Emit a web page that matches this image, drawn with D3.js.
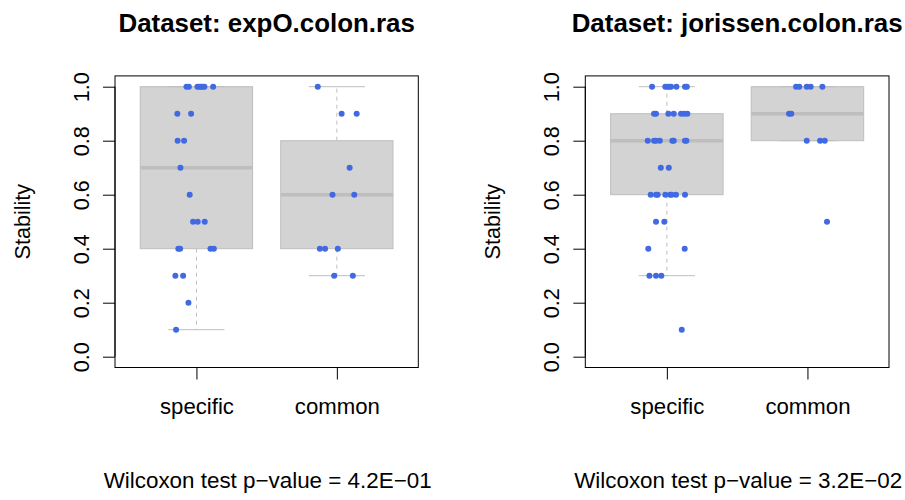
<!DOCTYPE html>
<html><head><meta charset="utf-8">
<script src="https://cdn.jsdelivr.net/npm/d3@7"></script>
<style>
body{margin:0;background:#fff}
svg{display:block}
text{font-family:"Liberation Sans",Arial,Helvetica,sans-serif;fill:#000}
</style>
</head><body>
<svg id="chart" width="905" height="500"></svg>
<script>
// ---------------- data ----------------
const categories = ["specific", "common"];
const yTickValues = [0, 0.2, 0.4, 0.6, 0.8, 1.0];
const panelTitles = ["Dataset: expO.colon.ras", "Dataset: jorissen.colon.ras"];
const pValueLabels = ["Wilcoxon test p\u2212value = 4.2E\u221201", "Wilcoxon test p\u2212value = 3.2E\u221202"];
const yLabel = "Stability";

// expO.colon.ras
const expoSpecificValues = [1,1,1,1,1,1,1,1, 0.9,0.9, 0.8,0.8, 0.7, 0.6, 0.5,0.5,0.5, 0.4,0.4,0.4,0.4, 0.3,0.3, 0.2, 0.1];
const expoSpecificJitter = [-0.071,-0.054,0.007,0.021,0.032,0.043,0.057,0.119, -0.136,-0.038, -0.134,-0.088, -0.114, -0.048, -0.024,0.009,0.059, -0.129,-0.116,0.100,0.124, -0.150,-0.095, -0.057, -0.145];
const expoCommonValues = [1, 0.9,0.9, 0.7, 0.6,0.6, 0.4,0.4,0.4, 0.3,0.3];
const expoCommonJitter = [-0.136, 0.034,0.141, 0.091, -0.031,0.124, -0.121,-0.084,0.007, -0.019,0.114];

// jorissen.colon.ras
const jorSpecificValues = [1,1,1,1,1,1,1,1, 0.9,0.9,0.9,0.9,0.9,0.9,0.9, 0.8,0.8,0.8,0.8,0.8,0.8,0.8,0.8, 0.7,0.7, 0.6,0.6,0.6,0.6,0.6,0.6,0.6,0.6, 0.5,0.5, 0.4,0.4, 0.3,0.3,0.3, 0.1];
const jorSpecificJitter = [-0.105,-0.011,0.004,0.018,0.030,0.068,0.129,0.142, -0.091,-0.077,0.011,0.049,0.101,0.124,0.146, -0.136,-0.091,-0.077,-0.050,0.039,0.049,0.129,0.139, -0.043,0.014, -0.115,-0.077,-0.065,-0.011,0.023,0.035,0.065,0.129, -0.077,-0.018, -0.132,0.127, -0.124,-0.077,-0.039, 0.106];
const jorCommonValues = [1,1,1,1,1, 0.9,0.9, 0.8,0.8,0.8, 0.5];
const jorCommonJitter = [-0.081,-0.058,-0.005,0.023,0.106, -0.131,-0.115, -0.005,0.090,0.123, 0.139];

const panels = [
  {title: panelTitles[0], pval: pValueLabels[0],
   groups: [{values: expoSpecificValues, jitter: expoSpecificJitter}, {values: expoCommonValues, jitter: expoCommonJitter}]},
  {title: panelTitles[1], pval: pValueLabels[1],
   groups: [{values: jorSpecificValues, jitter: jorSpecificJitter}, {values: jorCommonValues, jitter: jorCommonJitter}]}
];

// ---------------- stats (R boxplot.stats / fivenum) ----------------
function fivenum(x) {
  const s = x.slice().sort((a,b)=>a-b);
  const n = s.length;
  const n4 = Math.floor((n + 3) / 2) / 2;
  const d = [1, n4, (n + 1) / 2, n + 1 - n4, n];
  return d.map(v => 0.5 * (s[Math.floor(v) - 1] + s[Math.ceil(v) - 1]));
}
function boxStats(x) {
  const f = fivenum(x);
  const iqr = f[3] - f[1];
  const lo = f[1] - 1.5 * iqr, hi = f[3] + 1.5 * iqr;
  const inside = x.filter(v => !(v < lo) && !(v > hi));
  return {lower: d3.min(inside), q1: f[1], med: f[2], q3: f[3], upper: d3.max(inside)};
}

// ---------------- layout ----------------
const svg = d3.select("#chart");
const panelX = [[115, 418.3], [585.3, 889]];
const yRange = [367.5, 75.9];
const grayLine = "#BEBEBE";
const boxFill = "#D3D3D3";
const dotColor = "#4169E1";

const y = d3.scaleLinear().domain([-0.04, 1.04]).range(yRange);

panels.forEach((p, pi) => {
  const g = svg.append("g");
  const x = d3.scaleLinear().domain([0.42, 2.58]).range(panelX[pi]);
  const cx = (panelX[pi][0] + panelX[pi][1]) / 2;

  // boxplots
  p.groups.forEach((grp, gi) => {
    const st = boxStats(grp.values);
    const c = gi + 1;
    const bg = g.append("g");
    bg.append("rect")
      .attr("x", x(c - 0.4)).attr("width", x(c + 0.4) - x(c - 0.4))
      .attr("y", y(st.q3)).attr("height", y(st.q1) - y(st.q3))
      .attr("fill", boxFill).attr("stroke", grayLine).attr("stroke-width", 1);
    bg.append("line")
      .attr("x1", x(c - 0.4)).attr("x2", x(c + 0.4))
      .attr("y1", y(st.med)).attr("y2", y(st.med))
      .attr("stroke", grayLine).attr("stroke-width", 3.5);
    // whiskers
    [[st.q1, st.lower], [st.q3, st.upper]].forEach(([a, b]) => {
      if (a !== b) {
        bg.append("line")
          .attr("x1", x(c)).attr("x2", x(c))
          .attr("y1", y(a)).attr("y2", y(b))
          .attr("stroke", grayLine).attr("stroke-width", 1)
          .attr("stroke-dasharray", "4,4");
      }
    });
    // staples
    [st.lower, st.upper].forEach(v => {
      bg.append("line")
        .attr("x1", x(c - 0.2)).attr("x2", x(c + 0.2))
        .attr("y1", y(v)).attr("y2", y(v))
        .attr("stroke", grayLine).attr("stroke-width", 1);
    });
  });

  // jittered points
  p.groups.forEach((grp, gi) => {
    g.append("g").selectAll("circle")
      .data(grp.values.map((v, i) => ({v, j: grp.jitter[i]})))
      .join("circle")
      .attr("cx", d => x(gi + 1 + d.j))
      .attr("cy", d => y(d.v))
      .attr("r", 3)
      .attr("fill", dotColor);
  });

  // plot frame
  g.append("rect")
    .attr("x", panelX[pi][0]).attr("y", yRange[1])
    .attr("width", panelX[pi][1] - panelX[pi][0]).attr("height", yRange[0] - yRange[1])
    .attr("fill", "none").attr("stroke", "#000").attr("stroke-width", 1);

  // y axis
  const yAxis = d3.axisLeft(y).tickValues(yTickValues).tickFormat(d3.format(".1f")).tickSize(12).tickPadding(0);
  const ya = g.append("g").attr("transform", `translate(${panelX[pi][0]},0)`).call(yAxis);
  ya.select(".domain").attr("d", `M0,${y(0)}V${y(1)}`).attr("stroke", "#000");
  ya.selectAll(".tick line").attr("stroke", "#000");
  ya.selectAll(".tick text")
    .attr("x", null).attr("dy", null)
    .attr("text-anchor", "middle")
    .attr("font-size", 21.6)
    .attr("transform", `translate(-34,0) rotate(-90)`)
    .attr("y", 0).attr("dy", "0.35em");

  // x axis
  const xAxis = d3.axisBottom(x).tickValues([1, 2]).tickFormat((d, i) => categories[i]).tickSize(12).tickPadding(0);
  const xa = g.append("g").attr("transform", `translate(0,${yRange[0]})`).call(xAxis);
  xa.select(".domain").attr("d", `M${x(1)},0H${x(2)}`).attr("stroke", "#000");
  xa.selectAll(".tick line").attr("stroke", "#000");
  xa.selectAll(".tick text").attr("dy", null).attr("y", 46.8).attr("font-size", 22.2);

  // y label
  g.append("text")
    .attr("transform", `translate(${panelX[pi][0] - 85},${(yRange[0] + yRange[1]) / 2}) rotate(-90)`)
    .attr("text-anchor", "middle")
    .attr("font-size", 21.6)
    .text(yLabel);

  // title
  g.append("text")
    .attr("x", cx).attr("y", 31.7)
    .attr("text-anchor", "middle")
    .attr("font-weight", "bold")
    .attr("font-size", 25.9)
    .text(p.title);

  // p-value
  g.append("text")
    .attr("x", cx + 1).attr("y", 488.3)
    .attr("text-anchor", "middle")
    .attr("font-size", 22.4)
    .text(p.pval);
});
</script>
</body></html>
